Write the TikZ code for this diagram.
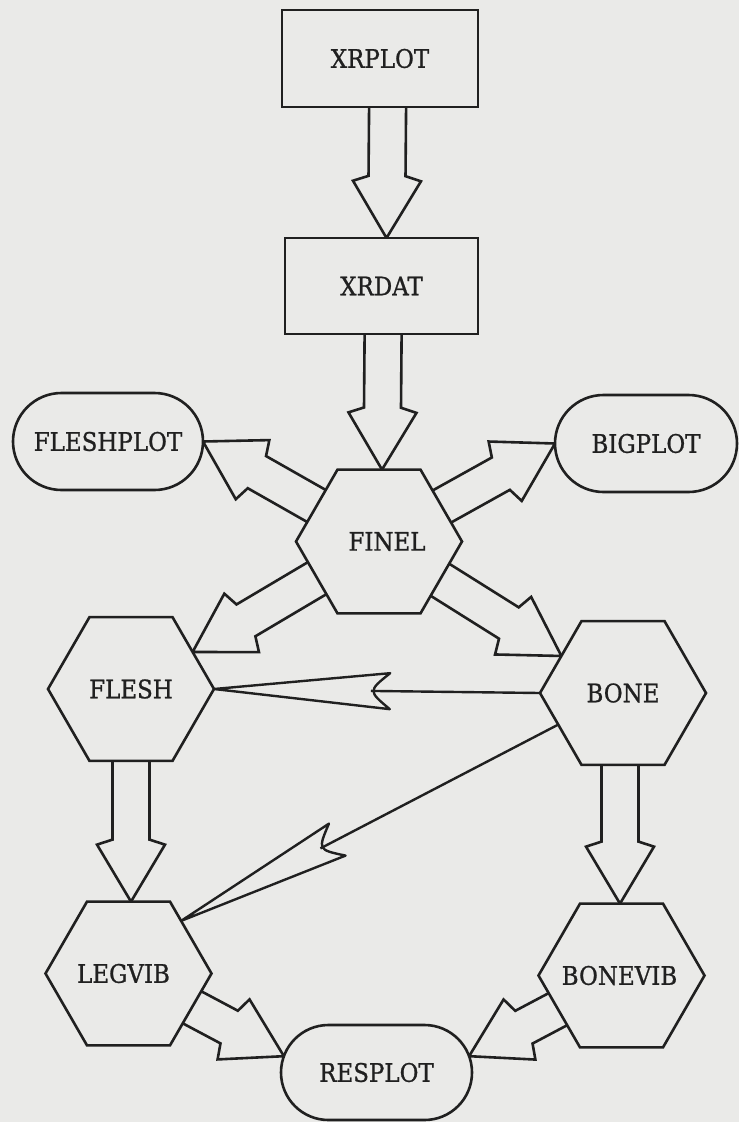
\documentclass[tikz,border=0pt]{standalone}
\usepackage{fontspec}
\newfontfamily\lblfont{DejaVu Serif Condensed}[FakeBold=0.9]
\usetikzlibrary{calc,shapes.geometric,shapes.misc}
\definecolor{paper}{RGB}{234,234,232}
\definecolor{ink}{RGB}{32,32,32}
\pgfdeclarelayer{back}
\pgfsetlayers{back,main}
% fat outlined arrow: #1 tail, #2 tip
\newcommand\fatarrow[2]{%
  \coordinate (fa-c) at ($(#2)!57pt!(#1)$);
  \coordinate (fa-e) at ($(#2)!62pt!(#1)$);
  \draw[fatarr] ($(#1)!18.5pt!-90:(#2)$) -- ($(fa-e)!18.5pt!90:(#1)$)
     -- ($(fa-c)!34pt!90:(#1)$) -- (#2) -- ($(fa-c)!34pt!-90:(#1)$)
     -- ($(fa-e)!18.5pt!-90:(#1)$) -- ($(#1)!18.5pt!90:(#2)$) -- cycle;
}
% thin arrow with long notched head: #1 tail, #2 tip
\newcommand\thinarrow[2]{%
  \coordinate (ta-b) at ($(#2)!176pt!(#1)$);
  \coordinate (ta-n) at ($(#2)!154pt!(#1)$);
  \coordinate (ta-s) at ($(#2)!157pt!(#1)$);
  \draw[thinarr] (#2) -- ($(ta-b)!18pt!90:(#1)$) .. controls (ta-n) .. ($(ta-b)!18pt!-90:(#1)$) -- cycle;
  \draw[thinarr] (#1) -- (ta-s);
}
\newcommand\hexlabel[2][0pt]{\makebox[0pt]{\kern#1#2}}
\begin{document}
\begin{tikzpicture}[x=1pt,y=-1pt,
  every node/.style={font=\lblfont\fontsize{25.5}{30}\selectfont, text=ink, inner sep=0pt, outer sep=0pt},
  boxnode/.style={rectangle, draw=ink, fill=paper, line width=2.6pt},
  hexnode/.style={regular polygon, regular polygon sides=6, minimum size=166pt, draw=ink, fill=paper, line width=2.6pt},
  pillnode/.style={rounded rectangle, draw=ink, fill=paper, line width=2.6pt},
  fatarr/.style={draw=ink, fill=paper, line width=2.6pt, line join=miter},
  thinarr/.style={draw=ink, fill=paper, line width=2.4pt, line join=round}
]
\begin{pgfonlayer}{back}
\fill[paper] (0,0) rectangle (739,1122);
\end{pgfonlayer}
\useasboundingbox (0,0) rectangle (739,1122);

\node[boxnode, minimum width=196pt, minimum height=97pt] (XRPLOT) at (380,58.5) {XRPLOT};
\node[boxnode, minimum width=193pt, minimum height=96pt] (XRDAT) at (381.5,286) {XRDAT};
\node[pillnode, minimum width=190pt, minimum height=97pt] (FLESHPLOT) at (108,441.5) {FLESHPLOT};
\node[pillnode, minimum width=182pt, minimum height=97pt] (BIGPLOT) at (646,443.5) {BIGPLOT};
\node[hexnode] (FINEL) at (379,541.5) {\hexlabel[16pt]{FINEL}};
\node[hexnode] (FLESH) at (131,689) {\hexlabel{FLESH}};
\node[hexnode] (BONE) at (623,693) {\hexlabel{BONE}};
\node[hexnode] (LEGVIB) at (128.5,973.5) {\hexlabel[-10pt]{LEGVIB}};
\node[hexnode] (BONEVIB) at (621.5,975.5) {\hexlabel[-4pt]{BONEVIB}};
\node[pillnode, minimum width=191pt, minimum height=95pt] (RESPLOT) at (376.5,1072.5) {RESPLOT};

\coordinate (a1s) at ($(XRPLOT.center)+(8,0)$);
\coordinate (a1t) at ($(XRDAT.north)+(5,0)$);
\coordinate (a2s) at ($(XRDAT.center)+(2,0)$);
\coordinate (a2t) at ($(FINEL.north)+(3,0)$);
\coordinate (a3t) at ($(LEGVIB.north)+(2.5,0)$);
\coordinate (a4s) at ($(BONE.center)+(-3,0)$);
\coordinate (a4t) at ($(BONEVIB.north)+(-1.5,0)$);

\begin{pgfonlayer}{back}
\fatarrow{a1s}{a1t}
\fatarrow{a2s}{a2t}
\fatarrow{FINEL.center}{FLESHPLOT.east}
\fatarrow{FINEL.center}{BIGPLOT.west}
\fatarrow{FINEL.center}{FLESH.31}
\fatarrow{FINEL.center}{BONE.149}
\fatarrow{FLESH.center}{a3t}
\fatarrow{a4s}{a4t}
\fatarrow{LEGVIB.center}{RESPLOT.170}
\fatarrow{BONEVIB.center}{RESPLOT.10}
\thinarrow{BONE.west}{FLESH.east}
\thinarrow{BONE.206}{LEGVIB.45}
\end{pgfonlayer}
\end{tikzpicture}
\end{document}
